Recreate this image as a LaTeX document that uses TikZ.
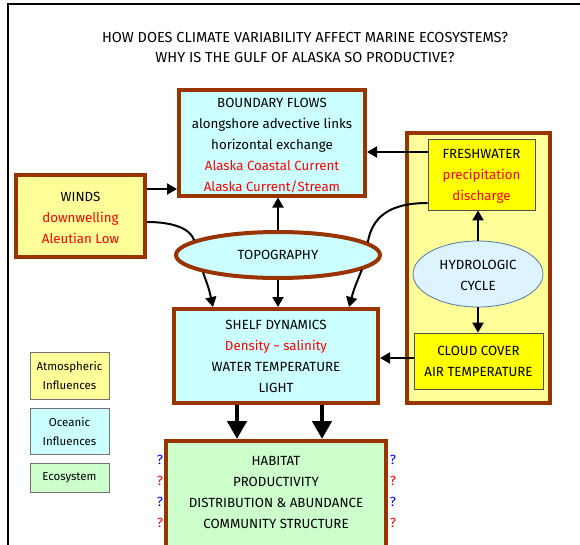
\documentclass[tikz,border=0pt]{standalone}
\usepackage{fontspec}
\setmainfont{Fira Sans}
\usetikzlibrary{arrows.meta,shapes.geometric,calc}
\definecolor{brn}{HTML}{993300}
\definecolor{lcyan}{HTML}{CCFFFF}
\definecolor{lyel}{HTML}{FFFF99}
\definecolor{yel}{HTML}{FFFF00}
\definecolor{lgrn}{HTML}{CCFFCC}
\definecolor{hyd}{HTML}{DDF4FF}
\definecolor{hydb}{HTML}{5577AA}
\definecolor{qblue}{HTML}{0000FF}
\definecolor{qred}{HTML}{FF0000}
\begin{document}
\begin{tikzpicture}[x=1pt,y=-1pt,
  brnbox/.style={draw=brn, line width=4pt, rectangle, inner sep=0pt},
  thinbox/.style={draw=black!70, line width=0.8pt, rectangle, inner sep=0pt},
  legbox/.style={draw=black!55, line width=0.8pt, rectangle, inner sep=0pt},
  txt/.style={font=\fontsize{13.3}{21}\selectfont, align=center, inner sep=0pt},
  ltxt/.style={font=\fontsize{11.5}{19}\selectfont, align=center, inner sep=0pt},
  arr/.style={line width=2pt, -{Triangle[length=10pt,width=11pt]}},
  bigarr/.style={line width=4.5pt, -{Triangle[length=18pt,width=19pt]}},
  crv/.style={line width=2pt},
  qm/.style={font=\fontsize{13.3}{14}\selectfont, inner sep=0pt}]
\useasboundingbox (0,0) rectangle (580,544);
% frame
\draw[line width=2pt] (7.5,546) -- (7.5,3.5) -- (582,3.5);
% title
\node[font=\fontsize{14.5}{20}\selectfont, align=center, inner sep=0pt] (title) at (305,48)
  {HOW DOES CLIMATE VARIABILITY AFFECT MARINE ECOSYSTEMS?\\WHY IS THE GULF OF ALASKA SO PRODUCTIVE?};
% right big box
\node[brnbox, fill=lyel, minimum width=143pt, minimum height=270pt] (hbox) at (478.5,268) {};
% boxes
\node[brnbox, fill=lcyan, minimum width=186pt, minimum height=106pt] (boundary) at (272,142.5) {};
\node[txt] (boundaryt) at (272,146) {BOUNDARY FLOWS\\alongshore advective links\\horizontal exchange\\
  \textcolor{qred}{Alaska Coastal Current}\\\textcolor{qred}{Alaska Current/Stream}};
\node[brnbox, fill=lyel, minimum width=129pt, minimum height=82pt] (winds) at (80.5,216) {};
\node[txt] (windst) at (80.5,218) {WINDS\\\textcolor{qred}{downwelling}\\\textcolor{qred}{Aleutian Low}};
\node[ellipse, draw=brn, line width=4pt, fill=lcyan, minimum width=204pt, minimum height=46pt, inner sep=0pt] (topo) at (278,255) {};
\node[txt] (topot) at (278,255) {TOPOGRAPHY};
\node[brnbox, fill=lcyan, minimum width=204pt, minimum height=94pt] (shelf) at (276,356) {};
\node[txt] (shelft) at (276,356) {SHELF DYNAMICS\\\textcolor{qred}{Density \textasciitilde\ salinity}\\WATER TEMPERATURE\\LIGHT};
\node[thinbox, fill=yel, minimum width=107pt, minimum height=71pt] (fresh) at (481.5,174.5) {};
\node[txt] (fresht) at (481.5,176) {FRESHWATER\\\textcolor{qred}{precipitation}\\\textcolor{qred}{discharge}};
\node[ellipse, draw=hydb, line width=0.8pt, fill=hyd, minimum width=130pt, minimum height=66pt, inner sep=0pt] (hydro) at (478,274) {};
\node[txt] (hydrot) at (478,275) {HYDROLOGIC\\CYCLE};
\node[thinbox, fill=yel, minimum width=129pt, minimum height=56pt] (cloud) at (478.5,361) {};
\node[txt] (cloudt) at (478.5,361) {CLOUD COVER\\AIR TEMPERATURE};
\node[brnbox, fill=lgrn, minimum width=220pt, minimum height=130pt] (habitat) at (276,506) {};
\node[txt] (habitatt) at (276,492) {HABITAT\\PRODUCTIVITY\\DISTRIBUTION \& ABUNDANCE\\COMMUNITY STRUCTURE};
% legend
\node[legbox, fill=lyel, minimum width=79pt, minimum height=47pt] (lega) at (69.5,375.5) {};
\node[ltxt] (legat) at (69.5,376) {Atmospheric\\Influences};
\node[legbox, fill=lcyan, minimum width=79pt, minimum height=46pt] (lego) at (69.5,431) {};
\node[ltxt] (legot) at (69.5,432) {Oceanic\\Influences};
\node[legbox, fill=lgrn, minimum width=79pt, minimum height=29pt] (lege) at (69.5,477.5) {};
\node[ltxt] (leget) at (69.5,478) {Ecosystem};
% question marks
\foreach \yy/\cc [count=\i] in {460/qblue,481/qred,502/qblue,523/qred}{
  \node[qm, text=\cc] (ql\i) at (160,\yy) {?};
  \node[qm, text=\cc] (qr\i) at (393,\yy) {?};
}
% connectors
\draw[arr] (winds.east |- 0,189) -- (boundary.west |- 0,189);
\draw[crv] (winds.east |- 0,222) .. controls (172,222) and (190,228) .. (topo.170);
\draw[arr] (topo.north) -- (topo.north |- boundary.south);
\draw[arr] (topo.193) .. controls (209,289) .. (shelf.north -| 213,0);
\draw[arr] (topo.south) -- (topo.south |- shelf.north);
\draw[arr] (topo.-10.4) .. controls (354,289) .. (shelf.north -| 349,0);
\draw[arr] (fresh.west |- 0,152) -- (boundary.east |- 0,152);
\draw[crv] (fresh.west |- 0,203) .. controls (388,203) and (372,218) .. (topo.8.5);
\draw[arr] (hydro.north) -- (hydro.north |- fresh.south);
\draw[arr] (hydro.south) -- (hydro.south |- cloud.north);
\draw[arr] (cloud.west |- 0,358) -- (shelf.east |- 0,358);
\draw[bigarr] (shelf.south -| 237,0) -- (habitat.north -| 237,0);
\draw[bigarr] (shelf.south -| 322,0) -- (habitat.north -| 322,0);
\end{tikzpicture}
\end{document}
